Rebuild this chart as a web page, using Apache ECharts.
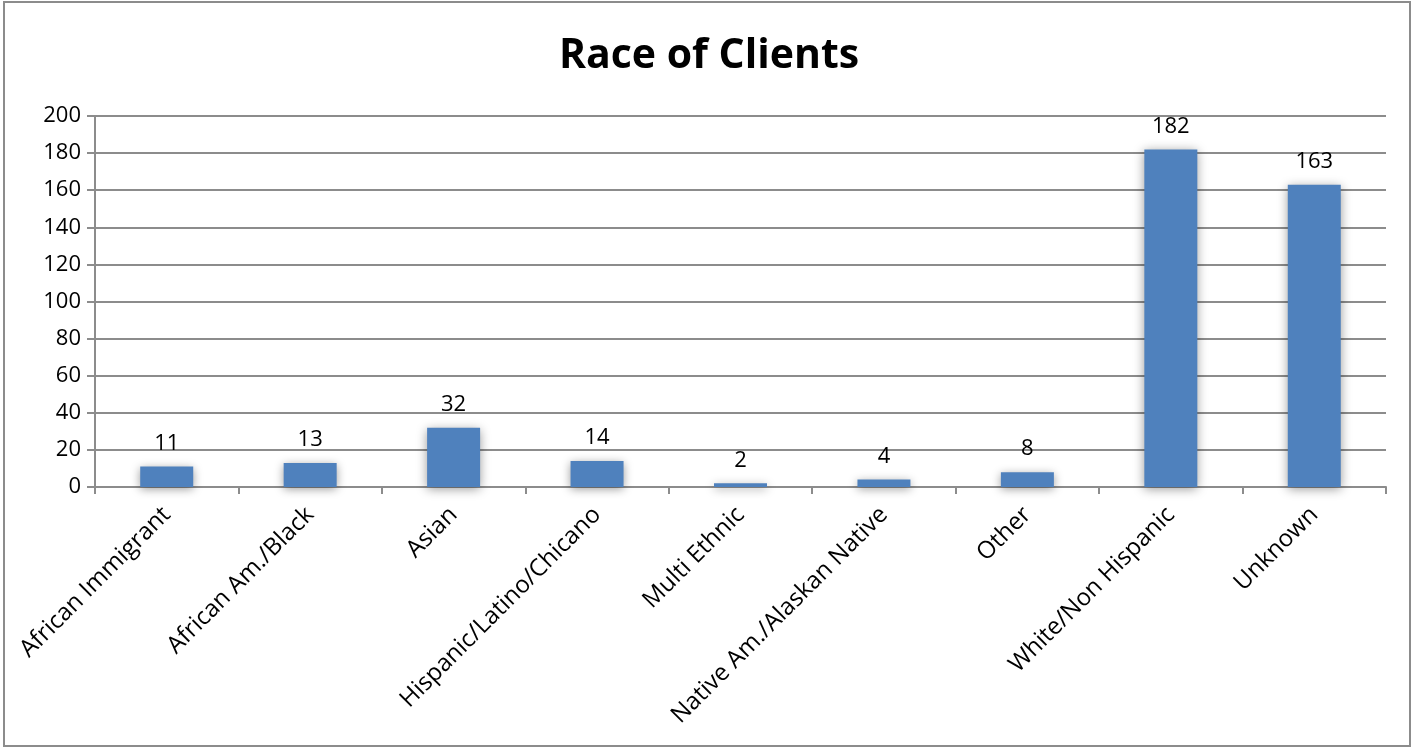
<!DOCTYPE html>
<html>
<head>
<meta charset="utf-8">
<script src="https://cdn.jsdelivr.net/npm/echarts@6/dist/echarts.min.js"></script>
<style>
  html, body { margin: 0; padding: 0; background: #fff; }
  #chart { width: 1418px; height: 754px; }
</style>
</head>
<body>
<div id="chart"></div>
<script>
const categories = [
  "African Immigrant", "African Am./Black", "Asian", "Hispanic/Latino/Chicano",
  "Multi Ethnic", "Native Am./Alaskan Native", "Other", "White/Non Hispanic", "Unknown"
];
const clients = [11, 13, 32, 14, 2, 4, 8, 182, 163];

const chart = echarts.init(document.getElementById("chart"));
const font = "Open Sans, Liberation Sans, sans-serif";

chart.setOption({
  animation: false,
  title: {
    text: "Race of Clients",
    left: "center",
    top: 31,
    textStyle: { fontFamily: font, fontSize: 41, fontWeight: "bold", color: "#000" }
  },
  graphic: [{
    type: "rect",
    shape: { x: 4, y: 2, width: 1406, height: 744 },
    style: { fill: "none", stroke: "#8c8c8c", lineWidth: 2 },
    silent: true
  }],
  grid: { left: 95, right: 32, top: 116, bottom: 267 },
  xAxis: {
    type: "category",
    data: categories,
    axisLine: { lineStyle: { color: "#8c8c8c", width: 2 } },
    axisTick: { show: true, length: 7, lineStyle: { color: "#8c8c8c", width: 2 } },
    axisLabel: {
      rotate: 45, interval: 0, margin: 24,
      fontFamily: font, fontSize: 24, color: "#000"
    }
  },
  yAxis: {
    type: "value",
    min: 0, max: 200, interval: 20,
    axisLine: { show: true, lineStyle: { color: "#8c8c8c", width: 2 } },
    axisTick: { show: true, length: 8, lineStyle: { color: "#8c8c8c", width: 2 } },
    axisLabel: { fontFamily: font, fontSize: 22, color: "#000", margin: 14 },
    splitLine: { lineStyle: { color: "#8c8c8c", width: 2 } }
  },
  series: [{
    type: "bar",
    data: clients,
    barWidth: 53,
    itemStyle: {
      color: "#4f81bd",
      shadowColor: "rgba(0,0,0,0.4)",
      shadowBlur: 10,
      shadowOffsetY: 2
    },
    label: {
      show: true, position: "top", distance: 12,
      fontFamily: font, fontSize: 22, color: "#000"
    }
  }]
});
</script>
</body>
</html>
